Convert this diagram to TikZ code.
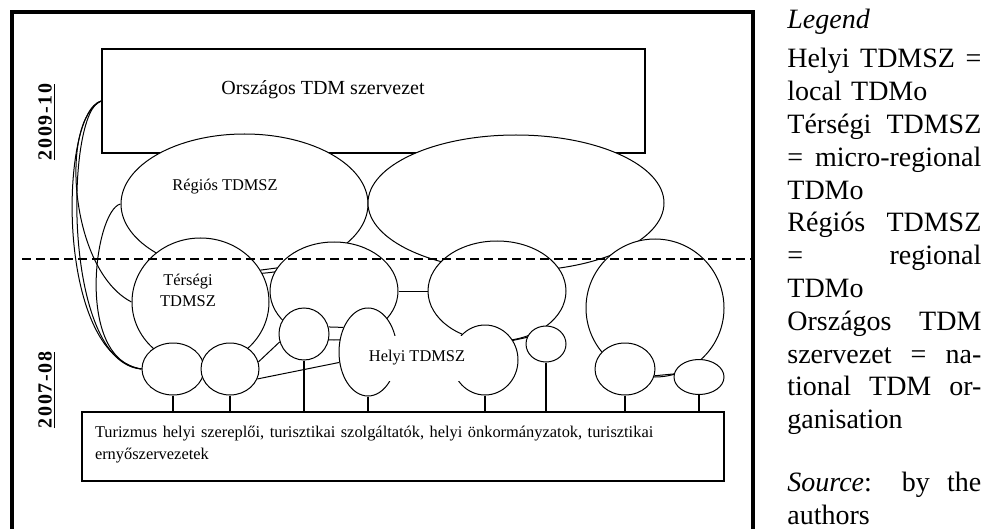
\documentclass[tikz,border=0pt]{standalone}
\usepackage{fontspec}
\setmainfont{Liberation Serif}
\usetikzlibrary{shapes.geometric}

\newcommand{\jl}[1]{{\spaceskip=0pt\relax\xspaceskip=0pt\relax\makebox[97pt][s]{#1}}}
\newcommand{\legfont}{\fontsize{14pt}{16.4pt}\selectfont}

\begin{document}
\begin{tikzpicture}[x=0.5pt, y=-0.5pt,
	org/.style={ellipse, draw, fill=white, inner sep=0pt, line width=0.5pt},
	box/.style={rectangle, draw, line width=0.7pt, inner sep=0pt},
	link/.style={line width=0.5pt},
	stem/.style={line width=1.1pt},
	lbl/.style={inner sep=0pt, align=center, font=\fontsize{8.2pt}{10.5pt}\selectfont},
	year/.style={rotate=90, inner sep=0pt, font=\fontsize{10pt}{10pt}\selectfont\bfseries\addfontfeature{LetterSpace=8}}]
	\useasboundingbox (0,0) rectangle (984,529);
	\clip (0,0) rectangle (984,529);
	\draw[line width=2pt] (11.5,540) -- (11.5,12.5) -- (752.5,12.5) -- (752.5,540);

	\node[box, minimum width=271.5pt, minimum height=52pt] (nat) at (373.5,101) {};
	\node[lbl, font=\fontsize{10pt}{12pt}\selectfont] (nattxt) at (323,90) {Országos TDM szervezet};

	\node[org, minimum width=123.5pt, minimum height=70pt] (regio) at (244.5,204) {};
	\node[org, minimum width=148pt, minimum height=68pt] (regio2) at (516,203) {};
	\node[lbl] (regiotxt) at (225,187) {Régiós TDMSZ};

	\node[org, minimum width=68.5pt, minimum height=64pt] (ter) at (200.5,302) {};
	\node[org, minimum width=64pt, minimum height=49pt] (mid2) at (334,291) {};
	\node[org, minimum width=69pt, minimum height=50pt] (mid3) at (497,291) {};
	\node[org, minimum width=69pt, minimum height=69pt] (mid4) at (655,308) {};
	\node[lbl] (tertxt) at (188,290) {Térségi\\TDMSZ};

	\node[org, minimum width=31pt, minimum height=26pt] (se1) at (173,369) {};
	\node[org, minimum width=29pt, minimum height=26pt] (se2) at (230,369) {};
	\node[org, minimum width=25pt, minimum height=26pt] (c3) at (304,334) {};
	\node[org, minimum width=29pt, minimum height=44pt] (helyi) at (368,352) {};
	\node[org, minimum width=33pt, minimum height=35pt] (c5) at (485,360) {};
	\node[org, minimum width=20pt, minimum height=18pt] (c6) at (546,344) {};
	\node[org, minimum width=30pt, minimum height=26pt] (se7) at (625,369) {};
	\node[org, minimum width=25pt, minimum height=17.5pt] (se8) at (699,377) {};
	\node[lbl, fill=white, minimum width=50pt, minimum height=22.5pt] (helyitxt) at (417,358) {Helyi TDMSZ};

	% links
	\draw[link] (nat.west) .. controls +(-42,10) and +(-87,-14) .. (se1.west);
	\draw[link] (nat.west) .. controls +(-36,8) and +(-80,-6) .. (se1.west);
	\draw[link] (nat.west) .. controls +(-42,20) and +(-62,-32) .. (ter.west);
	\draw[link] (regio.west) .. controls +(-26,6) and +(-67,-9) .. (se1.west);
	\draw[link] (ter.28) -- (mid2.158);
	\draw[link] (mid2.east) -- (mid3.west);
	\draw[link] (se2.14) -- (c3.198);
	\draw[link] (se2.-20) -- (helyi.200);
	\draw[link] (c3.16) -- (helyi.135);
	\draw[link] (c5.35) -- (c6.161);
	\draw[link] (se7.-13) -- (se8.173);

	\node[box, minimum width=321pt, minimum height=34.5pt, text width=308pt, inner xsep=6.5pt, align=left, font=\fontsize{8.2pt}{11pt}\selectfont] (base) at (403,446.5) {Turizmus helyi szereplői, turisztikai szolgáltatók, helyi önkormányzatok, turisztikai\\ernyőszervezetek\vphantom{\strut}};
	\foreach \s in {se1,se2,c3,helyi,c5,c6,se7,se8}
		\draw[stem] (\s.south) -- (\s.south |- base.north);

	\draw[line width=0.8pt, dash pattern=on 4.5pt off 2.5pt] (22,259) -- (752,259);

	\node[year] (y1) at (47,122) {\underline{2009-10}};
	\node[year] (y2) at (47,390) {\underline{2007-08}};

	\node[anchor=west, inner sep=0pt, font=\legfont\itshape] (legtitle) at (787,22) {Legend};
	\node[anchor=north west, inner sep=0pt, text width=97pt, align=left, font=\legfont] (legbody) at (787,48) {\jl{Helyi TDMSZ =}\\local TDMo\\\jl{Térségi TDMSZ}\\\jl{= micro-regional}\\TDMo\\\jl{Régiós TDMSZ}\\\jl{= regional}\\TDMo\\\jl{Országos TDM}\\\jl{szervezet = na-}\\\jl{tional TDM or-}\\ganisation};
	\node[anchor=north west, inner sep=0pt, text width=97pt, align=left, font=\legfont] (src) at (787,472) {\jl{\textit{Source}: by the}\\authors};
\end{tikzpicture}
\end{document}
